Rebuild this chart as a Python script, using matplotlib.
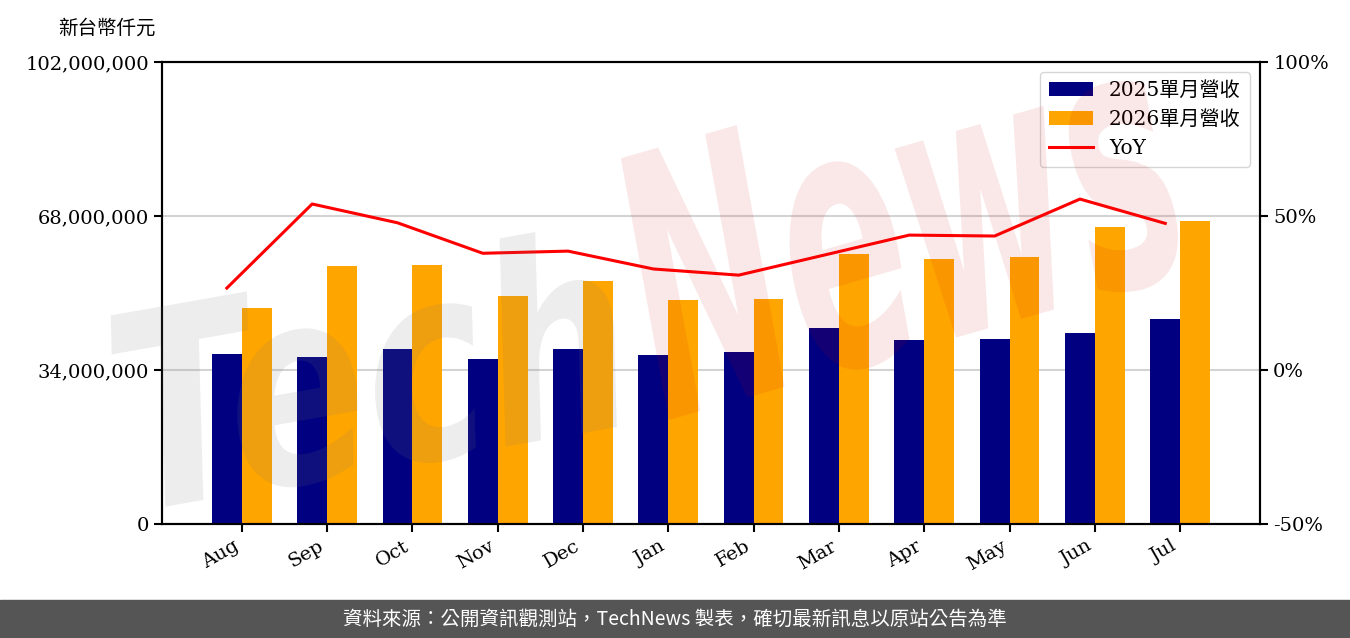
import matplotlib
matplotlib.use('Agg')
import numpy as np
from matplotlib import pyplot as plt
from matplotlib.ticker import FuncFormatter
from matplotlib.textpath import TextPath
from matplotlib.patches import PathPatch
from matplotlib.font_manager import FontProperties
from matplotlib.transforms import Affine2D, IdentityTransform

months = ['Aug', 'Sep', 'Oct', 'Nov', 'Dec', 'Jan', 'Feb', 'Mar', 'Apr', 'May', 'Jun', 'Jul']
rev_2025 = [37.5, 36.9, 38.6, 36.4, 38.6, 37.3, 38.0, 43.3, 40.6, 40.8, 42.2, 45.3]  # millions
rev_2026 = [47.7, 57.0, 57.2, 50.3, 53.7, 49.5, 49.7, 59.6, 58.5, 59.0, 65.6, 66.9]
yoy = [26.6, 53.9, 47.8, 37.9, 38.6, 32.8, 30.8, 37.3, 43.8, 43.5, 55.5, 47.6]  # percent

rev_2025 = [v * 1e6 for v in rev_2025]
rev_2026 = [v * 1e6 for v in rev_2026]

fonts = ['DejaVu Serif', 'Noto Sans CJK TC']
plt.rcParams['font.family'] = fonts

fig = plt.figure(figsize=(13.5, 6.38), dpi=100)
ax = fig.add_axes([0.12, 0.1787, 0.8133, 0.7241])
ax2 = ax.twinx()

x = np.arange(len(months))
w = 0.35
b1 = ax.bar(x, rev_2025, w, color='#000080', zorder=2)
b2 = ax.bar(x + w, rev_2026, w, color='#ffa500', zorder=2)
l1, = ax2.plot(x, yoy, color='red', lw=2.2)

ax.set_ylim(0, 102e6)
ax.set_yticks([0, 34e6, 68e6, 102e6])
ax.yaxis.set_major_formatter(FuncFormatter(lambda v, p: f'{int(v):,}'))
ax.grid(axis='y', color='#d3d3d3', lw=1.5, zorder=0)
ax.set_axisbelow(True)
ax.set_xticks(x + w / 2)
ax.set_xticklabels(months, rotation=30, ha='right')

ax2.set_ylim(-50, 100)
ax2.set_yticks([-50, 0, 50, 100])
ax2.yaxis.set_major_formatter(FuncFormatter(lambda v, p: f'{int(v)}%'))

for a in (ax, ax2):
    a.tick_params(labelsize=14, width=1.5, length=6)
    for s in a.spines.values():
        s.set_linewidth(1.5)

ax.legend([b1, b2, l1], ['2025單月營收', '2026單月營收', 'YoY'], loc='upper right',
          fontsize=14.5, handlelength=2.2, borderpad=0.45, labelspacing=0.5)

fig.text(0.043, 0.955, '新台幣仟元', fontsize=14, family=fonts, va='center')


# watermark, squeezed text paths in pixel coordinates
def watermark(word, px, py, width, height, angle, color, alpha):
    fp = FontProperties(family='DejaVu Sans', style='italic', weight='bold')
    tp = TextPath((0, 0), word, size=1, prop=fp)
    ext = tp.get_extents()
    tr = (Affine2D().translate(-ext.x0, -ext.y0)
          .scale(width / ext.width, height / ext.height)
          .rotate_deg(angle).translate(px, 638 - py))
    patch = PathPatch(tr.transform_path(tp), facecolor=color, edgecolor='none',
                      alpha=alpha, transform=IdentityTransform(), zorder=3)
    fig.add_artist(patch)


watermark('Tech', 140, 515, 500, 210, 10, '#777777', 0.13)
watermark('News', 670, 425, 550, 270, 16, '#cc0000', 0.09)

# footer
fig.patches.append(plt.Rectangle((0, 0), 1, 38 / 638, transform=fig.transFigure,
                                 color='#555555', zorder=0))
fig.text(0.5, 19 / 638, '資料來源：公開資訊觀測站，TechNews 製表，確切最新訊息以原站公告為準',
         color='white', fontsize=14, family=['Noto Sans CJK TC', 'DejaVu Sans'],
         ha='center', va='center')

fig.savefig('out.png', dpi=100)
